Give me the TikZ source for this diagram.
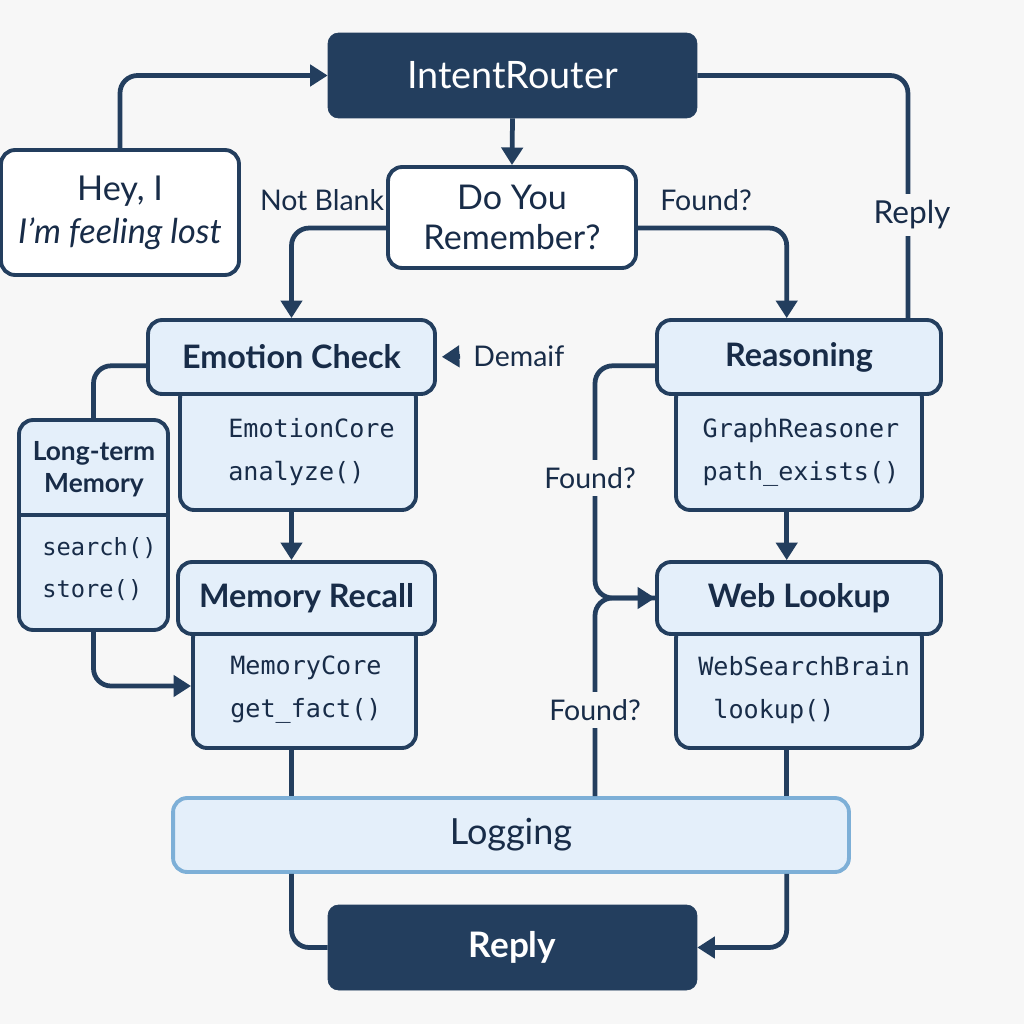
\documentclass[tikz,border=0pt]{standalone}
\usepackage{fontspec}
\setmainfont{Lato}
\newfontfamily\codefont{DejaVu Sans Mono}
\usepackage{tikz}
\usetikzlibrary{arrows.meta}
\definecolor{navy}{RGB}{35,62,94}
\definecolor{inktext}{RGB}{24,44,72}
\definecolor{paleblue}{RGB}{228,239,250}
\definecolor{logedge}{RGB}{125,175,215}
\definecolor{bggray}{RGB}{247,247,247}
\begin{document}
\begin{tikzpicture}[x=0.02cm,y=-0.02cm,
  line/.style={draw=navy,line width=2.7pt,rounded corners=10pt},
  arr/.style={line,-{Triangle[length=10pt,width=12pt]}},
  darkbox/.style={draw=navy,fill=navy,rounded corners=6pt,text=white,font=\fontsize{21.5}{25}\selectfont},
  whitebox/.style={draw=navy,fill=white,line width=2.2pt,rounded corners=8pt,text=inktext,align=center},
  headbox/.style={draw=navy,fill=paleblue,line width=2.2pt,rounded corners=8pt,text=inktext,font=\fontsize{18.4}{22}\selectfont\bfseries},
  bodybox/.style={draw=navy,fill=paleblue,line width=2.2pt,rounded corners=8pt},
  code/.style={text=inktext,align=left,inner sep=0pt,font=\fontsize{14.3}{24.5}\selectfont\codefont},
  lbl/.style={text=inktext,inner sep=2pt,font=\fontsize{16.2}{19}\selectfont},
  gaplbl/.style={lbl,fill=bggray,inner sep=4pt}
]
\fill[bggray] (0,0) rectangle (1024,1024);
\useasboundingbox (0,0) rectangle (1024,1024);

% top row
\node[darkbox,minimum width=7.38cm,minimum height=1.70cm] (router) at (512.5,75.5) {IntentRouter};
\node[whitebox,minimum width=4.76cm,minimum height=2.50cm,font=\fontsize{19.5}{24.5}\selectfont] (user) at (120,212.5) {Hey, I\\\textit{I'm feeling lost}};
\node[whitebox,minimum width=4.96cm,minimum height=2.02cm,font=\fontsize{19.4}{23}\selectfont] (remember) at (512,217.5) {Do You\\Remember?};

% left column
\node[bodybox,minimum width=4.72cm,minimum height=2.52cm] (emobody) at (298,447) {};
\node[headbox,minimum width=5.74cm,minimum height=1.48cm] (emo) at (291.5,357) {Emotion Check};
\node[code,anchor=west] (emotxt) at (228,452) {EmotionCore\\analyze()};
\node[bodybox,minimum width=4.46cm,minimum height=2.48cm] (membody) at (304.5,686) {};
\node[headbox,minimum width=5.14cm,minimum height=1.44cm] (memrec) at (306.5,598) {Memory Recall};
\node[code,anchor=west] (memtxt) at (230,690) {MemoryCore\\get\_fact()};
\node[bodybox,minimum width=2.98cm,minimum height=4.20cm] (ltm) at (93.5,525) {};
\draw[navy,line width=2.2pt] (ltm.west |- 0,515) -- (ltm.east |- 0,515);
\node[text=inktext,align=center,font=\fontsize{15}{18.5}\selectfont\bfseries] (ltmhead) at (94,469) {Long-term\\Memory};
\node[code,anchor=west,font=\fontsize{13.5}{24}\selectfont\codefont] (ltmtxt) at (42,569) {search()\\store()};

% right column
\node[bodybox,minimum width=4.92cm,minimum height=2.52cm] (reasbody) at (799,447) {};
\node[headbox,minimum width=5.68cm,minimum height=1.48cm] (reas) at (799,357) {Reasoning};
\node[code,align=center] (reastxt) at (801,452) {GraphReasoner\\path\_exists()};
\node[bodybox,minimum width=4.92cm,minimum height=2.48cm] (webbody) at (799,686) {};
\node[headbox,minimum width=5.68cm,minimum height=1.44cm] (web) at (799,598) {Web Lookup};
\node[code,anchor=west] (webtxt) at (698,690) {WebSearchBrain\\\ lookup()};

% bottom
\node[headbox,draw=logedge,font=\fontsize{20.5}{24}\selectfont,minimum width=13.52cm,minimum height=1.48cm] (log) at (511,835) {Logging};
\node[darkbox,font=\fontsize{20}{24}\selectfont\bfseries,minimum width=7.38cm,minimum height=1.70cm] (reply) at (512.5,947.5) {Reply};

\coordinate (fj) at (595,598);

% connectors
\draw[arr] (user.north) |- (router.west);
\draw[arr] (router.south) -- (remember.north);
\draw[arr] ([yshift=-6pt]remember.west) -| (emo.north);
\draw[arr] ([yshift=-6pt]remember.east) -| ([xshift=-7pt]reas.north);
\draw[line] (router.east) -| ([xshift=62pt]reas.north);
\draw[line] ([yshift=-5pt]emo.west) -| (ltm.north);
\draw[arr] (ltm.south) |- (membody.west);
\draw[arr] (emobody.south -| emo.south) -- (memrec.north -| emo.south);
\draw[arr] ([yshift=-5pt]reas.west) -| (fj) -- (web.west);
\draw[line] (log.north -| fj) -- (fj) -- (web.west);
\draw[arr] ([xshift=-7pt]reasbody.south) -- ([xshift=-7pt]web.north);
\draw[line] (membody.south -| emo.south) -- (log.north -| emo.south);
\draw[line] ([xshift=-7pt]webbody.south) -- ([xshift=-7pt]webbody.south |- log.north);
\draw[line] (log.south -| emo.south) |- (reply.west);
\draw[arr] ([xshift=-7pt]webbody.south |- log.south) |- (reply.east);

% labels
\node[lbl] (notblank) at (322,200) {Not Blank};
\node[lbl] (found) at (706,200) {Found?};
\node[gaplbl,font=\fontsize{18}{21}\selectfont] (replylbl) at (912,215) {Reply};
\node[gaplbl] (foundup) at (590,478) {Found?};
\node[gaplbl] (founddown) at (595,710) {Found?};
\node[lbl,inner sep=0pt,anchor=west] (dem) at (473,356) {Demaif};
\draw[arr,shorten >=2.8pt,shorten <=7.4pt] (dem.west) -- (emo.east);
\end{tikzpicture}
\end{document}
